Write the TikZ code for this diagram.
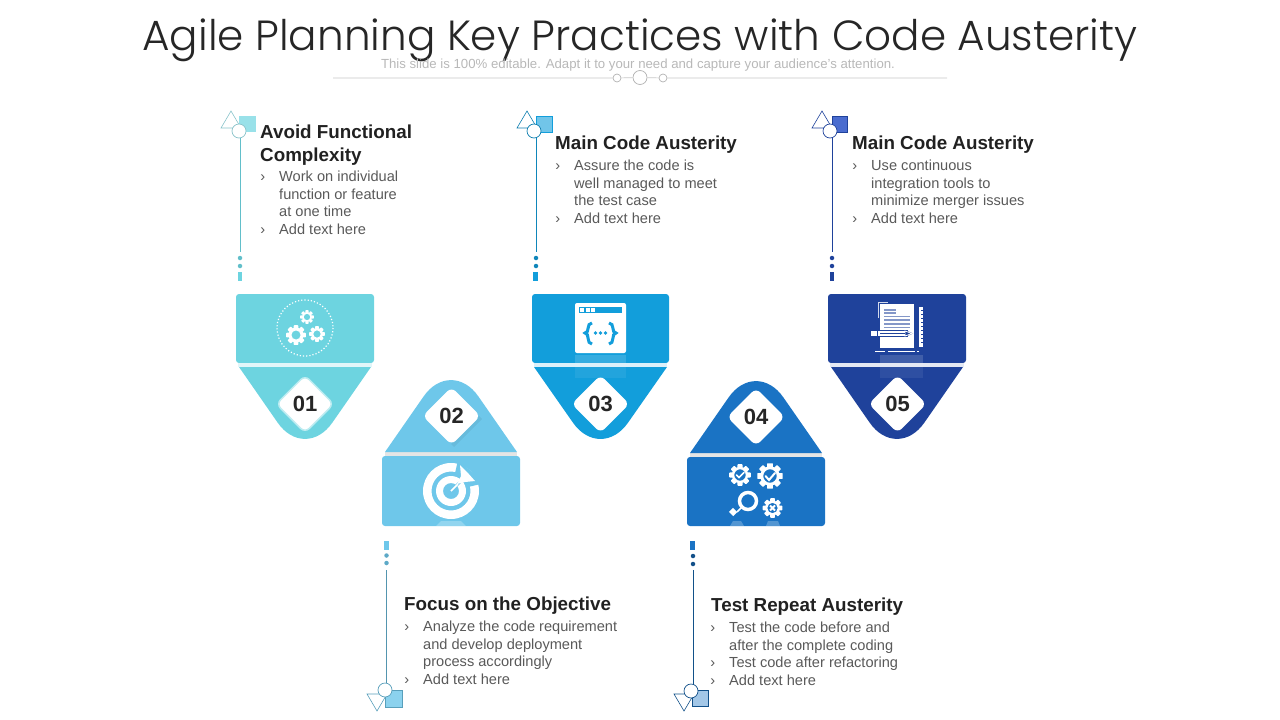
\documentclass[tikz,border=0pt]{standalone}
\usepackage{fontspec}
\setmainfont{Liberation Sans}
\newfontfamily\titlefont{Poppins Light}
\usetikzlibrary{shapes.geometric}
\definecolor{tealc}{HTML}{6DD4E0}
\definecolor{skyc}{HTML}{6EC7EA}
\definecolor{bluec}{HTML}{129EDB}
\definecolor{royalc}{HTML}{1A73C4}
\definecolor{navyc}{HTML}{1F429B}
\definecolor{navylt}{HTML}{4A6CCF}
\tikzset{
    cardbox/.style={fill=#1, rounded corners=3pt},
    numbox/.style={diamond, fill=white, minimum width=58pt, minimum height=58pt, inner sep=0pt,
        rounded corners=6pt, text=black!85, font=\fontsize{22}{24}\selectfont\bfseries},
    headtext/.style={anchor=north west, inner sep=0pt, align=left, text=black!87,
        font=\fontsize{18.8}{23}\selectfont\bfseries},
    bodytext/.style={anchor=north west, inner sep=0pt, align=left, text=black!65,
        font=\fontsize{14.6}{17.6}\selectfont},
    ringdot/.style={circle, draw=#1, fill=white, minimum size=14pt, inner sep=0pt, line width=.7pt},
    linkdot/.style={circle, fill=#1, minimum size=4.5pt, inner sep=0pt},
    ruledot/.style={circle, draw=black!30, fill=white, inner sep=0pt, line width=.7pt},
    cog/.pic={
        \begin{scope}[scale=#1]
            \foreach \a in {0,45,...,315}
                \fill[white, rotate=\a, rounded corners=.6pt] (-.23,.6) rectangle (.23,.98);
            \fill[white, even odd rule] (0,0) circle (.74) (0,0) circle (.46);
        \end{scope}
    },
    ringcog/.pic={
        \begin{scope}[scale=#1]
            \foreach \a in {0,45,...,315}
                \fill[white, rotate=\a, rounded corners=.6pt] (-.23,.6) rectangle (.23,.98);
            \fill[white, even odd rule] (0,0) circle (.74) (0,0) circle (.52);
        \end{scope}
    },
}
\newcommand{\bl}{\llap{›\hspace{14pt}}}
\begin{document}
\begin{tikzpicture}[x=1pt, y=-1pt]
    \useasboundingbox (0,0) rectangle (1280,720);

    % title
    \node[text=black!85, font=\fontsize{42.15}{46}\selectfont\titlefont] (title) at (640,40)
        {Agile Planning Key Practices with Code Austerity};
    \node[text=black!28, font=\fontsize{13.2}{14}\selectfont] (subtitle) at (638,65.5)
        {This slide is 100\% editable. Adapt it to your need and capture your audience's attention.};
    \coordinate (ruleL) at (333,78);
    \coordinate (ruleR) at (947,78);
    \node[ruledot, minimum size=8pt] (dotA) at (617,78) {};
    \node[ruledot, minimum size=14pt] (dotB) at (640,77.5) {};
    \node[ruledot, minimum size=8pt] (dotC) at (663,78) {};
    \draw[black!22, line width=.7pt] (ruleL) -- (dotA) (dotA) -- (dotB) (dotB) -- (dotC) (dotC) -- (ruleR);

    % cards
    \fill[cardbox=tealc] (236,294) rectangle (374,363);
    \fill[cardbox=skyc] (382,456) rectangle (520,526);
    \fill[cardbox=bluec] (532,294) rectangle (669,363);
    \fill[cardbox=royalc] (687,457) rectangle (825,526);
    \fill[cardbox=navyc] (828,294) rectangle (966,363);
    \fill[tealc!20] (238,363) rectangle (372,367);
    \fill[black!10] (385,452) rectangle (517,456);
    \fill[bluec!15] (534,363) rectangle (667,367);
    \fill[black!10] (690,453) rectangle (822,457);
    \fill[navyc!12] (830,363) rectangle (964,367);

    % triangles
    \fill[tealc] (239,367) [rounded corners=48pt] -- (305,462) [sharp corners] -- (371,367) -- cycle;
    \fill[skyc] (385,452) [rounded corners=48pt] -- (451,357) [sharp corners] -- (517,452) -- cycle;
    \fill[bluec] (534,367) [rounded corners=48pt] -- (600.5,462) [sharp corners] -- (667,367) -- cycle;
    \fill[royalc] (690,453) [rounded corners=48pt] -- (756,358) [sharp corners] -- (822,453) -- cycle;
    \fill[navyc] (831,367) [rounded corners=48pt] -- (897,462) [sharp corners] -- (963,367) -- cycle;

    % reflections
    \fill[white, opacity=.15] (575,355) rectangle (626,363);
    \fill[white, opacity=.07] (575,367) rectangle (626,378);
    \fill[white, opacity=.15] (880,355) rectangle (923,363);
    \fill[white, opacity=.07] (880,367) rectangle (923,378);

    % numbers
    \node[numbox, draw=tealc!45!white, line width=1.5pt] (num1) at (305,404) {01};
    \fill[black, opacity=.06] (451,444) -- (479,416) -- (482,419) -- (454,447) -- cycle;
    \node[numbox] (num2) at (451.5,416) {02};
    \node[numbox] (num3) at (600.5,404) {03};
    \node[numbox] (num4) at (756,417) {04};
    \node[numbox] (num5) at (897.5,404) {05};

    % icon 01
    \draw[white, line width=1.2pt, dash pattern=on 1.2pt off 2pt] (305,328) circle (28);
    \pic at (296,335) {cog=10};
    \pic at (307,317) {cog=7};
    \pic at (317,334) {cog=8};

    % icon 02
    \fill[white, even odd rule] (451,491) circle (28) (451,491) circle (19.5);
    \fill[skyc] (451,491) -- (458,460) -- (485,483) -- cycle;
    \fill[white, even odd rule] (451,491) circle (15) (451,491) circle (8);
    \draw[skyc, line width=2.5pt] (451,491) -- (468,474);
    \draw[white, line width=1.5pt] (451,491) -- (458,484);
    \fill[white] (460,465) -- (467,472) -- (475,481) -- (465,482) -- (457,484) -- (461,476) -- cycle;
    \fill[white, opacity=.25] (436,526) -- (441,521) -- (461,521) -- (466,526) -- cycle;

    % icon 03
    \fill[white, rounded corners=2pt] (575,303) rectangle (626,353);
    \fill[bluec] (579,307) rectangle (622,313);
    \foreach \x in {580,585.5,591}
        \fill[white] (\x,308) rectangle +(4,4);
    \draw[bluec, line width=3pt] (592,323) .. controls (586,323) and (590,333) .. (585,333)
        .. controls (590,333) and (586,344) .. (592,344);
    \draw[bluec, line width=3pt] (609,323) .. controls (615,323) and (611,333) .. (616,333)
        .. controls (611,333) and (615,344) .. (609,344);
    \foreach \x in {595.5,600.5,605.5}
        \fill[bluec] (\x,333) circle (1.8);

    % icon 04
    \pic at (740,475) {ringcog=11};
    \pic at (770,476) {ringcog=13};
    \draw[white, line width=1.6pt, line cap=round] (736.5,475) -- (739,477.5) -- (744,472.5);
    \draw[white, line width=2pt, line cap=round] (765.5,476) -- (769,480) -- (775,473);
    \draw[white, line width=3.5pt] (748,501) circle (8.5);
    \draw[white, line width=1.5pt] (741,508) -- (737,512);
    \draw[white, line width=6pt] (735,510) -- (731,514);
    \pic at (772.5,508) {ringcog=10};
    \draw[white, line width=2pt] (770,505.5) -- (775,510.5) (775,505.5) -- (770,510.5);
    \fill[white, opacity=.25] (730,526) -- (733,521) -- (741,521) -- (744,526) -- cycle;
    \fill[white, opacity=.25] (766,526) -- (768,521) -- (778,521) -- (780,526) -- cycle;

    % icon 05
    \fill[white] (880,304) rectangle (914,348);
    \draw[white, opacity=.8, line width=.8pt] (878.5,318) -- (878.5,302.5) -- (888,302.5);
    \foreach \y in {310,313}
        \draw[navyc!55!white, line width=1.2pt] (884,\y) -- (896,\y);
    \foreach \y in {316.5,320,324,327.5}
        \draw[navyc!55!white, line width=1.2pt] (884,\y) -- (910,\y);
    \fill[navyc] (870,330) rectangle (908,337);
    \fill[white] (871,331) rectangle (905,336);
    \fill[navyc] (905,330) -- (913,333.5) -- (905,337) -- cycle;
    \draw[white, line width=.8pt] (905,331) -- (912,333.5) -- (905,336) -- cycle;
    \draw[navyc, line width=.6pt] (877,331) -- (877,336) (880,333.5) -- (905,333.5);
    \fill[white] (918.5,307) rectangle (923,347);
    \foreach \y in {310,314,...,345}
        \draw[navyc, line width=.5pt] (921,\y) -- (923,\y);
    \draw[white, line width=.9pt] (875,351.5) -- (885,351.5) (888,351.5) -- (915,351.5) (917,351.5) -- (919,351.5);

    % item 01
    \fill[tealc!70!white] (239,116) rectangle (256,132);
    \draw[tealc!80!black!70!white, line width=.6pt] (231,111) -- (241,128) -- (221,128) -- cycle;
    \node[ringdot=tealc!80!black!70!white] (ring1) at (239,131) {};
    \node[linkdot=tealc!90!black] (dotA1) at (240,258) {};
    \node[linkdot=tealc!90!black] (dotB1) at (240,266) {};
    \fill[tealc] (238,272) rectangle (242,281);
    \coordinate (end1) at (240,252);
    \draw[tealc!90!black, line width=.8pt] (ring1.south -| end1) -- (end1);
    \node[headtext] (head1) at (260,124.5) {Avoid Functional\\Complexity};
    \node[bodytext] (body1) at (279,171) {\bl Work on individual\\function or feature\\at one time\\\bl Add text here};

    % item 03
    \fill[bluec!60!white, draw=bluec, line width=.6pt] (536,116) rectangle (552,132);
    \draw[bluec!80!black, line width=.6pt] (527,111) -- (537,128) -- (517,128) -- cycle;
    \node[ringdot=bluec!80!black] (ring3) at (534,131) {};
    \node[linkdot=bluec!85!black] (dotA3) at (536,258) {};
    \node[linkdot=bluec!85!black] (dotB3) at (536,266) {};
    \fill[bluec] (533,272) rectangle (538,281);
    \coordinate (end3) at (536,252);
    \draw[bluec!85!black, line width=.8pt] (ring3.south -| end3) -- (end3);
    \node[headtext] (head3) at (555,135.5) {Main Code Austerity};
    \node[bodytext] (body3) at (574,160) {\bl Assure the code is\\well managed to meet\\the test case\\\bl Add text here};

    % item 05
    \fill[navylt, draw=navyc, line width=.6pt] (832,116) rectangle (847,132);
    \draw[navyc, line width=.6pt] (822,111) -- (832,128) -- (812,128) -- cycle;
    \node[ringdot=navyc] (ring5) at (830,131) {};
    \node[linkdot=navyc] (dotA5) at (832,258) {};
    \node[linkdot=navyc] (dotB5) at (832,266) {};
    \fill[navyc] (829.5,272) rectangle (834,281);
    \coordinate (end5) at (832,252);
    \draw[navyc, line width=.8pt] (ring5.south -| end5) -- (end5);
    \node[headtext] (head5) at (852,135.5) {Main Code Austerity};
    \node[bodytext] (body5) at (871,160) {\bl Use continuous\\integration tools to\\minimize merger issues\\\bl Add text here};

    % item 02
    \fill[skyc!80!white, draw=skyc!80!black, line width=.5pt] (385,690) rectangle (402,707);
    \draw[skyc!80!black, line width=.6pt] (377,711) -- (367,694) -- (387,694) -- cycle;
    \node[ringdot=skyc!80!black] (ring2) at (385,690) {};
    \node[linkdot=skyc!85!black] (dotA2) at (386.5,555.5) {};
    \node[linkdot=skyc!85!black] (dotB2) at (386.5,563) {};
    \fill[skyc] (384,541) rectangle (388.5,550);
    \coordinate (end2) at (386.5,570);
    \draw[skyc!75!black, line width=.8pt] (end2) -- (ring2.north -| end2);
    \node[headtext] (head2) at (404,596.5) {Focus on the Objective};
    \node[bodytext] (body2) at (423,621) {\bl Analyze the code requirement\\and develop deployment\\process accordingly\\\bl Add text here};

    % item 04
    \fill[royalc!40!white, draw=royalc!70!black, line width=.6pt] (692,690) rectangle (708,706);
    \draw[royalc!70!black, line width=.6pt] (684,711) -- (674,694) -- (694,694) -- cycle;
    \node[ringdot=royalc!70!black] (ring4) at (691,691) {};
    \node[linkdot=royalc!70!black] (dotA4) at (693,556) {};
    \node[linkdot=royalc!70!black] (dotB4) at (693,564) {};
    \fill[royalc] (690,541) rectangle (695,550);
    \coordinate (end4) at (693,570);
    \draw[royalc!70!black, line width=.8pt] (end4) -- (ring4.north -| end4);
    \node[headtext] (head4) at (711,597.5) {Test Repeat Austerity};
    \node[bodytext] (body4) at (729,622) {\bl Test the code before and\\after the complete coding\\\bl Test code after refactoring\\\bl Add text here};
\end{tikzpicture}
\end{document}
